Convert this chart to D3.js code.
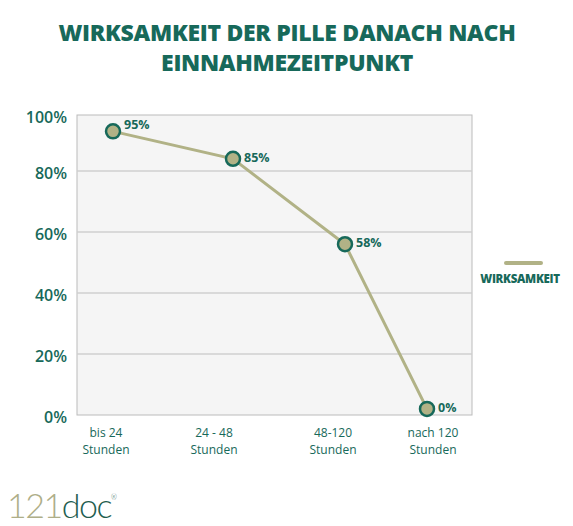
<!DOCTYPE html>
<html><head><meta charset="utf-8">
<script src="https://cdn.jsdelivr.net/npm/d3@7"></script>
<style>body{margin:0;background:#fff}</style></head>
<body><svg id="c" width="573" height="526"></svg>
<script>
const categories = [["bis 24","Stunden"],["24 - 48","Stunden"],["48-120","Stunden"],["nach 120","Stunden"]];
const values = [93, 84, 56, 2];
const valueLabels = ["95%","85%","58%","0%"];
const yTicks = [0,20,40,60,80,100];
const seriesName = "WIRKSAMKEIT";
const titleLines = ["WIRKSAMKEIT DER PILLE DANACH NACH","EINNAHMEZEITPUNKT"];

const teal = "#17695a", olive = "#b1b286";
const svg = d3.select("#c");
const font = "'Open Sans', sans-serif";

svg.selectAll(".t").data(titleLines).join("text")
  .attr("x", 287).attr("y", (d,i)=>41+i*30).attr("text-anchor","middle")
  .attr("font-family", font).attr("font-weight", 800).attr("font-size", 23)
  .attr("letter-spacing", -0.3).attr("fill", teal).text(d=>d);

const y = d3.scaleLinear().domain([0,100]).range([415,110]);
const x = d3.scaleOrdinal().domain(categories.map((d,i)=>i)).range([113,233,345,427]);

svg.append("rect").attr("x",77).attr("y",115).attr("width",395).attr("height",300)
  .attr("fill","#f5f5f5").attr("stroke","#bbb").attr("stroke-width",1);
svg.selectAll(".g").data(yTicks.filter(d=>d>0&&d<100)).join("line")
  .attr("x1",77).attr("x2",472).attr("y1",d=>y(d)).attr("y2",d=>y(d))
  .attr("stroke","#cfcfcf").attr("stroke-width",1.5);

svg.selectAll(".yl").data(yTicks).join("text")
  .attr("x",67).attr("y",d=>d===100?y(d)+13:y(d)+8).attr("text-anchor","end")
  .attr("font-family",font).attr("font-weight",600).attr("font-size",16).attr("fill",teal)
  .text(d=>d+"%");

const xl = svg.selectAll(".xl").data(categories).join("text")
  .attr("font-family",font).attr("font-size",12).attr("fill",teal).attr("text-anchor","middle");
xl.each(function(d,i){
  const t=d3.select(this);
  d.forEach((s,j)=>t.append("tspan").attr("x",[106,214,333,433][i]).attr("y",437+j*17).text(s));
});

const line = d3.line().x((d,i)=>x(i)).y(d=>y(d));
svg.append("path").datum(values).attr("d",line).attr("fill","none")
  .attr("stroke",olive).attr("stroke-width",3);
svg.selectAll(".p").data(values).join("circle")
  .attr("cx",(d,i)=>x(i)).attr("cy",d=>y(d)).attr("r",7)
  .attr("fill",olive).attr("stroke",teal).attr("stroke-width",2.5);
svg.selectAll(".vl").data(values).join("text")
  .attr("x",(d,i)=>x(i)+11).attr("y",(d,i)=>y(d)+(i===0?-2:3))
  .attr("font-family",font).attr("font-weight",700).attr("font-size",12.5).attr("fill",teal)
  .text((d,i)=>valueLabels[i]);

svg.append("line").attr("x1",506).attr("x2",541).attr("y1",263).attr("y2",263)
  .attr("stroke",olive).attr("stroke-width",4).attr("stroke-linecap","round");
svg.append("text").attr("x",520).attr("y",283).attr("text-anchor","middle")
  .attr("font-family",font).attr("font-weight",800).attr("font-size",11.5)
  .attr("letter-spacing",-0.3).attr("fill",teal).text(seriesName);

const logo = svg.append("text").attr("x",7).attr("y",518)
  .attr("font-family","Lato, sans-serif").attr("font-weight",300).attr("font-size",34).attr("letter-spacing",-1.5);
logo.append("tspan").attr("fill","#aeae88").text("121");
logo.append("tspan").attr("fill","#1f5e50").text("doc");
logo.append("tspan").attr("fill","#1f5e50").attr("font-size",7).attr("dy",-18).text("®");
</script></body></html>
